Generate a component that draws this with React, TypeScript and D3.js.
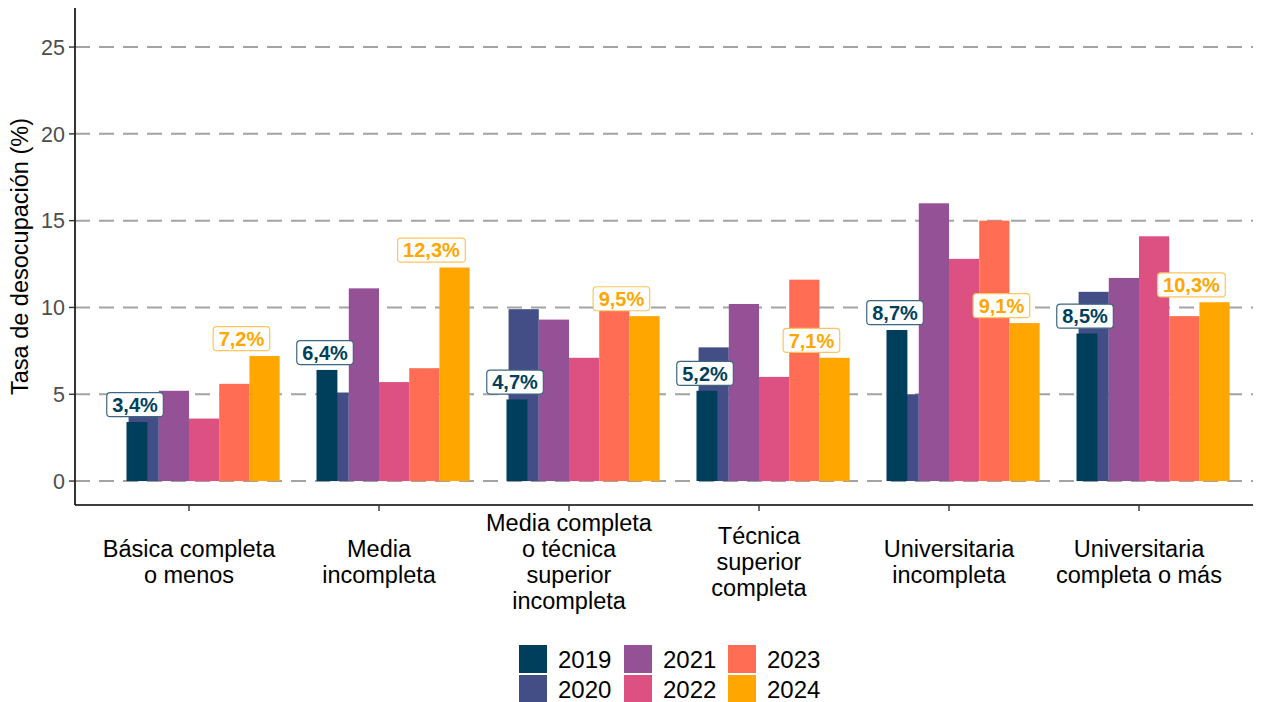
import React from "react";
import * as d3 from "d3";

const categories = [
  "Básica completa\no menos",
  "Media\nincompleta",
  "Media completa\no técnica\nsuperior\nincompleta",
  "Técnica\nsuperior\ncompleta",
  "Universitaria\nincompleta",
  "Universitaria\ncompleta o más",
];
const years = ["2019", "2020", "2021", "2022", "2023", "2024"];
const v2019 = [3.4, 6.4, 4.7, 5.2, 8.7, 8.5];
const v2020 = [3.8, 5.1, 9.9, 7.7, 5.0, 10.9];
const v2021 = [5.2, 11.1, 9.3, 10.2, 16.0, 11.7];
const v2022 = [3.6, 5.7, 7.1, 6.0, 12.8, 14.1];
const v2023 = [5.6, 6.5, 9.8, 11.6, 15.0, 9.5];
const v2024 = [7.2, 12.3, 9.5, 7.1, 9.1, 10.3];
const series = [v2019, v2020, v2021, v2022, v2023, v2024];
const colors = ["#003f5c", "#444e86", "#955196", "#dd5182", "#ff6e54", "#ffa600"];
const yTicks = [0, 5, 10, 15, 20, 25];

const fmt = (v: number) => v.toFixed(1).replace(".", ",") + "%";

export default function App() {
  const W = 1261, H = 702;
  const left = 75, right = 1253, top = 8, bottom = 505;
  const x = d3.scalePoint<string>().domain(categories).range([left, right]).padding(0.6);
  const step = x.step();
  const y = d3.scaleLinear().domain([-1.38, 27.25]).range([bottom, top]);

  const barStart = (s: number) => (s === 0 ? -0.329 : -0.318 + (s - 1) * 0.159);
  const barWidth = (s: number) => (s === 0 ? 0.11 : 0.159);

  const labelFont = 20;
  const charW = (t: string) =>
    t.split("").reduce((a, ch) => a + (ch === "," ? 0.278 : ch === "%" ? 0.889 : 0.556), 0) * labelFont;

  const labels: { cx: number; cy: number; text: string; color: string; border: string }[] = [];
  categories.forEach((c, i) => {
    const cx = x(c)!;
    labels.push({ cx: cx - 0.284 * step, cy: y(v2019[i] + 1.0), text: fmt(v2019[i]), color: "#003f5c", border: "#3d6680" });
    labels.push({ cx: cx + 0.276 * step, cy: y(v2024[i] + 1.0), text: fmt(v2024[i]), color: "#ffa600", border: "#ffc45c" });
  });

  const legendCols = [519, 624, 728];
  const legendRows = [645, 675];

  return (
    <svg width={W} height={H} style={{ position: "absolute", left: 0, top: 0, fontFamily: "Liberation Sans, Arial, sans-serif" }}>
      <rect width={W} height={H} fill="#ffffff" />
      {yTicks.map((t) => (
        <line key={"g" + t} x1={left} x2={right} y1={y(t)} y2={y(t)} stroke="#a3a3a3" strokeWidth={2} strokeDasharray="15 9" />
      ))}
      {series.map((vals, s) =>
        s === 0 ? null : vals.map((v, i) => {
          const cx = x(categories[i])!;
          return (
            <rect key={`b${s}-${i}`} x={cx + barStart(s) * step} width={barWidth(s) * step} y={y(v)} height={y(0) - y(v)} fill={colors[s]} />
          );
        })
      )}
      {v2019.map((v, i) => {
        const cx = x(categories[i])!;
        return <rect key={`b0-${i}`} x={cx + barStart(0) * step} width={barWidth(0) * step} y={y(v)} height={y(0) - y(v)} fill={colors[0]} />;
      })}
      {labels.map((l, k) => {
        const w = charW(l.text) + 11;
        return (
          <g key={"l" + k}>
            <rect x={l.cx - w / 2} y={l.cy - 12} width={w} height={24} rx={3.5} fill="#ffffff" stroke={l.border} strokeWidth={1.2} />
            <text x={l.cx} y={l.cy} dy="0.36em" textAnchor="middle" fontSize={labelFont} fontWeight="bold" fill={l.color}>
              {l.text}
            </text>
          </g>
        );
      })}
      <line x1={left} x2={left} y1={top} y2={bottom} stroke="#000" strokeWidth={1.6} />
      <line x1={left} x2={right} y1={bottom} y2={bottom} stroke="#000" strokeWidth={1.6} />
      {yTicks.map((t) => (
        <g key={"yt" + t}>
          <line x1={left - 6} x2={left} y1={y(t)} y2={y(t)} stroke="#333" strokeWidth={1.4} />
          <text x={left - 10} y={y(t)} dy="0.36em" textAnchor="end" fontSize={21.5} fill="#4d4d4d">
            {t}
          </text>
        </g>
      ))}
      {categories.map((c) => {
        const lines = c.split("\n");
        const cx = x(c)!;
        return (
          <g key={"xt" + c}>
            <line x1={cx} x2={cx} y1={bottom} y2={bottom + 6} stroke="#333" strokeWidth={1.4} />
            <text textAnchor="middle" fontSize={23.5} fill="#000">
              {lines.map((ln, k) => (
                <tspan key={k} x={cx} y={561.5 + (k - (lines.length - 1) / 2) * 26} dy="0.36em">
                  {ln}
                </tspan>
              ))}
            </text>
          </g>
        );
      })}
      <text transform={`translate(28,${(top + bottom) / 2}) rotate(-90)`} textAnchor="middle" fontSize={23.5} fill="#000">
        Tasa de desocupación (%)
      </text>
      {years.map((yr, s) => {
        const col = Math.floor(s / 2), row = s % 2;
        const kx = legendCols[col], ky = legendRows[row];
        return (
          <g key={"lg" + yr}>
            <rect x={kx} y={ky} width={28} height={28} fill={colors[s]} />
            <text x={kx + 39} y={ky + 14} dy="0.36em" fontSize={24} fill="#000">
              {yr}
            </text>
          </g>
        );
      })}
    </svg>
  );
}
